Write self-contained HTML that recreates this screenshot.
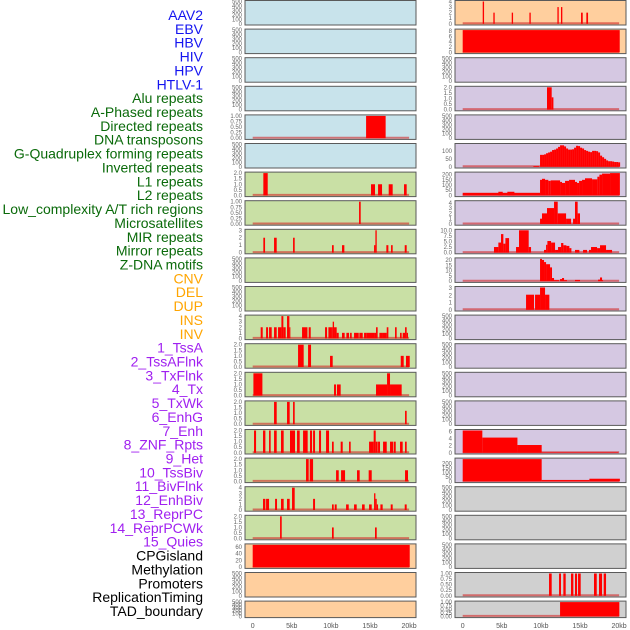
<!DOCTYPE html>
<html><head><meta charset="utf-8"><style>
body{margin:0;background:#fff;width:630px;height:630px;overflow:hidden}
svg{display:block;font-family:"Liberation Sans",sans-serif}
</style></head><body>
<svg id="c" width="630" height="630"></svg>
<script>
const labels=["AAV2","EBV","HBV","HIV","HPV","HTLV-1","Alu repeats","A-Phased repeats","Directed repeats","DNA transposons","G-Quadruplex forming repeats","Inverted repeats","L1 repeats","L2 repeats","Low_complexity A/T rich regions","Microsatellites","MIR repeats","Mirror repeats","Z-DNA motifs","CNV","DEL","DUP","INS","INV","1_TssA","2_TssAFlnk","3_TxFlnk","4_Tx","5_TxWk","6_EnhG","7_Enh","8_ZNF_Rpts","9_Het","10_TssBiv","11_BivFlnk","12_EnhBiv","13_ReprPC","14_ReprPCWk","15_Quies","CPGisland","Methylation","Promoters","ReplicationTiming","TAD_boundary"];
const labelGroups=[0,0,0,0,0,0,1,1,1,1,1,1,1,1,1,1,1,1,1,2,2,2,2,2,3,3,3,3,3,3,3,3,3,3,3,3,3,3,3,4,4,4,4,4];
const groupColors=["#1414f0","#0a6a0a","#ffa500","#a020f0","#000"];
const xTicks=[0,5,10,15,20];
const xTickLabels=["0","5kb","10kb","15kb","20kb"];
const T500=[0,100,200,300,400,500],T1=[0,0.25,0.5,0.75,1],T2=[0,0.5,1,1.5,2];
// left column: bg, ticks, ymax, segments [start kb, end kb, value]
const leftBg=["b","b","b","b","b","b","g","g","g","g","g","g","g","g","g","g","g","g","g","o","o","o"];
const leftTicks=[T500,T500,T500,T500,T1,T500,T2,T1,[0,1,2,3],T500,T500,[0,1,2,3,4],T2,T2,T2,T2,T2,[0,1,2,3,4],T2,[0,20,40,60],T500,T500];
const leftMax=[500,500,500,500,1,500,2,1,3,500,500,4,2,2,2,2,2,4,2,66,500,500];
const leftSeg=[null,null,null,null,
[[14.5,17.0,1]],null,
[[1.36,1.92,2],[15.13,15.64,1],[16.03,16.54,1],[17.39,17.9,1],[19.35,19.69,1]],
[[13.6,13.81,1]],
[[1.36,1.58,2],[2.73,3.07,2],[5.16,5.37,2],[10.14,10.36,1],[11.42,11.72,1],[15.52,15.69,1],[15.69,15.86,3],[17.09,17.35,1],[17.69,17.9,1],[19.44,19.69,1]],
null,null,
[[1.02,1.28,2],[1.71,1.96,2],[2.09,2.43,2],[2.73,3.07,2],[3.24,3.67,2],[3.67,3.92,4],[3.92,4.22,2],[4.39,4.69,4],[4.69,4.77,2],[6.31,7.0,2],[7.16,7.42,2],[9.25,9.51,2],[9.68,10.02,2],[10.02,10.23,2],[10.23,10.4,3],[10.4,10.74,2],[10.74,11.0,1],[11.42,11.76,1],[11.98,12.32,1],[12.45,12.66,1],[12.96,13.56,1],[13.64,14.07,1],[14.24,14.58,1],[14.58,15.52,1],[15.52,15.77,1],[15.77,15.98,2],[16.2,16.54,1],[16.54,17.14,1],[17.14,17.35,2],[18.2,18.41,2],[18.84,19.05,1],[19.18,19.48,1],[19.48,19.69,2],[19.69,19.86,1]],
[[5.8,6.52,2],[7.08,7.46,2],[9.89,10.23,1],[18.93,19.31,1],[19.6,20.08,1]],
[[0.09,1.24,2],[10.4,10.66,1],[10.78,11.25,1],[15.77,17.18,1],[17.18,17.56,2],[17.56,19.05,1]],
[[2.73,3.07,2],[4.39,4.73,2],[5.16,5.37,2],[19.48,19.69,1.2]],
[[0.17,0.43,2],[1.32,1.62,2],[2.09,2.3,2],[2.73,3.07,2],[3.62,3.96,2],[4.77,5.41,2],[5.67,6.01,2],[6.44,7.03,2],[7.33,7.59,2],[7.72,7.97,2],[8.48,8.74,2],[9.38,9.76,2],[15.47,15.73,2],[10.14,10.36,1],[11.25,11.51,1],[12.32,12.53,1],[14.88,15.47,1],[15.73,15.98,1],[16.03,16.28,1],[16.67,17.14,1],[17.56,17.95,1],[18.03,18.29,1],[18.84,19.18,1],[19.48,19.69,1]],
[[6.82,7.16,2],[7.29,7.72,2],[10.66,11.0,1],[11.3,11.81,1],[13.34,13.68,1],[14.83,15.22,1],[19.48,19.86,1]],
[[1.32,1.62,2],[1.71,2.09,2],[2.86,3.11,2],[3.62,3.96,2],[4.39,4.73,2],[5.03,5.37,4],[7.72,7.97,2],[10.14,10.36,1],[10.49,10.74,1],[11.94,12.28,1],[12.96,13.3,1],[13.98,14.32,1],[14.88,15.22,1],[15.52,15.69,3],[15.69,15.86,2],[15.86,16.03,1],[16.33,16.62,1],[17.65,17.9,1],[19.44,19.69,1]],
[[3.5,3.71,2],[10.14,10.36,1],[15.64,15.86,1]],
[[0,20.08,66]],null,null];
const rightBg=["o","o","p","p","p","p","p","p","p","p","p","p","p","p","p","p","p","y","y","y","y","y"];
const rightTicks=[[0,1,2,3,4],[0,2,4,6,8],T500,T2,T500,[0,50,100],[0,50,100,150,200],[0,1,2,3,4],[0,2.5,5,7.5,10],[0,5,10,15,20],[0,1,2,3],T500,T500,T500,T500,[0,2,4,6],[0,50,100,150,200],T500,T500,T500,T1,T1];
const rightMax=[4,8.3,500,2,500,140,215,4.2,10,21,3.1,500,500,500,500,6.3,250,500,500,500,1,1];
const gcBinStart=9.89, gcBinWidth=0.256;
const gcValues=[75,75,78,85,90,95,105,108,115,125,135,135,128,115,108,108,110,120,132,130,120,115,105,100,95,92,100,100,98,90,70,60,50,40,35,35,33,30,30,28];
const rightSeg=[
[[2.56,2.73,4],[3.92,4.09,2],[6.27,6.44,2],[8.53,8.7,2],[12.11,12.28,3],[12.57,12.74,3],[15.13,15.35,2],[15.81,16.03,2]],
[[0,20.08,8.3]],null,
[[10.78,11.38,2],[11.38,11.6,1.1]],null,
[[9.04,9.8,5]],
[[0,9.89,25],[4.56,5.12,35],[5.71,6.61,35],[9.89,10.14,150],[10.14,10.53,160],[10.53,10.95,150],[10.95,11.25,140],[11.25,12.45,145],[12.45,12.7,130],[12.7,13.09,120],[13.09,13.6,140],[13.6,14.36,150],[14.36,14.62,130],[14.62,14.88,120],[14.88,15.26,140],[15.26,15.64,150],[15.64,16.54,165],[16.54,17.22,155],[17.22,17.48,180],[17.48,17.82,200],[17.82,18.84,210],[18.84,20.1,215]],
[[9.89,10.14,1],[10.14,10.78,2],[10.78,11.68,3],[11.68,12.15,4.2],[12.15,13.22,2],[13.22,13.86,1],[14.11,14.36,1],[14.36,14.7,4.2],[14.7,15.0,2]],
[[4.0,4.56,2.5],[4.56,4.9,4.5],[4.9,5.2,8.3],[5.2,5.46,4],[5.46,5.93,6.5],[6.82,7.2,2.5],[7.2,8.44,10],[8.44,8.74,2.5],[10.4,10.66,1.2],[10.66,10.83,3.5],[10.83,11.3,5.2],[11.3,11.81,4.5],[11.81,12.19,1.2],[12.19,12.58,2.5],[12.58,12.87,4.3],[12.87,13.26,3.3],[13.26,13.64,3],[13.64,13.9,2],[14.36,14.92,1.2],[15.39,15.9,1.2],[16.15,16.41,1.2],[16.41,17.18,2.5],[17.18,17.56,2],[17.56,18.33,3.3],[18.33,19.1,1.2]],
[[9.89,10.14,21],[10.14,10.4,20],[10.4,10.66,18],[10.66,11.17,16],[11.17,11.42,13],[11.42,11.68,3],[11.68,12.32,1],[12.45,12.7,2],[12.7,12.96,3],[12.96,13.34,1],[14.36,15.0,1.2],[17.31,17.56,1.5],[17.56,17.82,3.5],[17.82,17.95,1]],
[[8.1,9.12,2.1],[9.25,9.89,2.1],[9.89,10.53,3.1],[10.53,11.08,2.1]],
null,null,null,null,
[[0,2.51,6.3],[2.51,7.0,4.3],[7.0,10.1,2.2],[10.1,19.9,0.15]],
[[0,10.1,250],[10.1,16.2,15],[16.2,20.1,30]],
null,null,null,
[[11.04,11.38,1],[12.32,12.57,1],[12.87,13.17,1],[13.85,14.15,1],[14.36,14.62,1],[14.75,15.09,1],[16.79,17.14,1],[17.43,17.82,1],[18.03,18.33,1]],
[[12.45,20.03,1]]];
gcValues.forEach((v,i)=>rightSeg[5].push([gcBinStart+i*gcBinWidth,gcBinStart+(i+1)*gcBinWidth,v]));

const bgColors={b:"#c8e3eb",g:"#c9e0a5",o:"#ffcf9e",p:"#d5c8e2",y:"#d0d0d0"};
const NS="http://www.w3.org/2000/svg";
const svg=document.getElementById("c");
function mk(tag,attrs,parent){const e=document.createElementNS(NS,tag);for(const k in attrs)e.setAttribute(k,attrs[k]);(parent||svg).appendChild(e);return e;}
labels.forEach((t,i)=>{
  const e=mk("text",{x:203,y:15+i*13.86+5,"text-anchor":"end","font-size":"14",fill:groupColors[labelGroups[i]]});
  
  
  e.textContent=t;
});
function drawCol(px0,bgs,ticks,maxs,segs,side){
  const zero=px0+7.7, k=7.82;
  const xs=v=>zero+v*k;
  for(let i=0;i<22;i++){
    const top=0.5+i*28.6, h=i==21?16.5:24.5, bot=top+h;
    const g=mk("g",{});
    
    
    const r=mk("rect",{x:px0,y:top,width:171,height:h,fill:bgColors[bgs[i]],stroke:"#5a5a5a","stroke-width":1},g);
    
    
    const y0=bot-1.2, y1=top+1, ys=v=>y0-(v/maxs[i])*(y0-y1);
    ticks[i].forEach(t=>{
      const e=mk("text",{x:px0-3,y:ys(t)+2,"text-anchor":"end","font-size":"6",fill:"#666"},g);
      
      
      e.textContent=(maxs[i]<=1.01&&t!==0)||(ticks[i]===T1)?t.toFixed(2):(ticks[i]===T2||ticks[i][1]===2.5)?t.toFixed(1):String(t);
    });
    if(segs[i]){
      const bl=mk("line",{x1:xs(0),x2:xs(20),y1:y0-0.5,y2:y0-0.5,stroke:"rgba(210,40,40,0.6)","stroke-width":2},g);
      
      
      segs[i].forEach(s=>{
        const v=Math.min(s[2],maxs[i]);
        const b=mk("rect",{x:xs(s[0]),y:ys(v),width:Math.max(1,xs(s[1])-xs(s[0])),height:y0-ys(v),fill:"#ff0000"},g);
        
        
      });
    }
  }
  xTicks.forEach((t,j)=>{
    const e=mk("text",{x:xs(t),y:628,"text-anchor":"middle","font-size":"7",fill:"#555"});
    
    
    e.textContent=xTickLabels[j];
  });
}
drawCol(245,leftBg,leftTicks,leftMax,leftSeg,'left');
drawCol(455,rightBg,rightTicks,rightMax,rightSeg,'right');
</script>
</body></html>
